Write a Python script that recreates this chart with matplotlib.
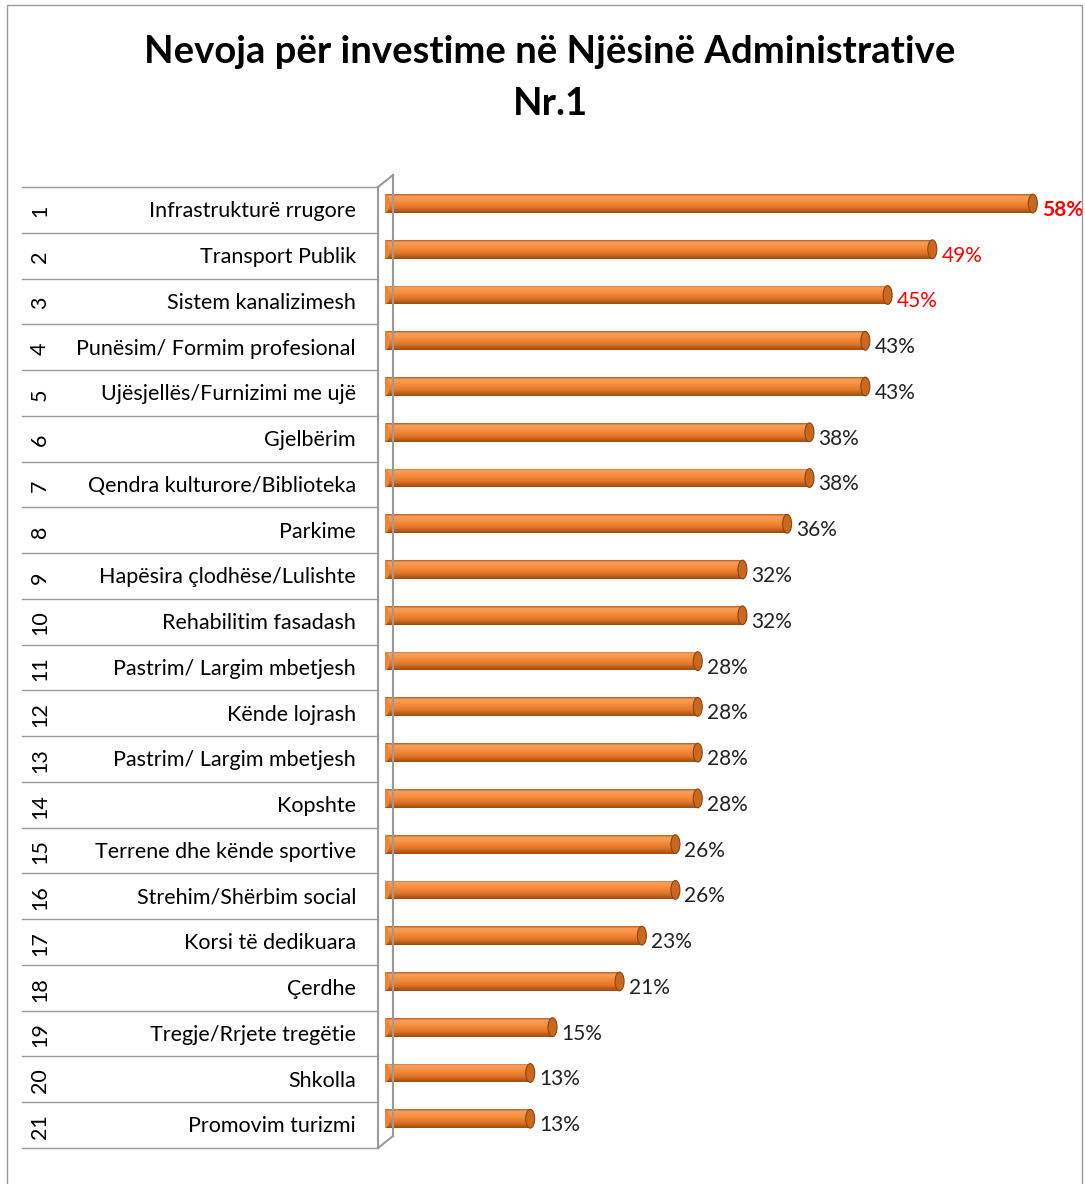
import numpy as np
import matplotlib.pyplot as plt
from matplotlib.colors import LinearSegmentedColormap
from matplotlib.patches import Ellipse, Rectangle
import matplotlib.transforms as mtrans

plt.rcParams['font.family'] = ['Lato', 'DejaVu Sans']

# data
ranks = [str(i) for i in range(1, 22)]
categories = [
    "Infrastrukturë rrugore", "Transport Publik", "Sistem kanalizimesh",
    "Punësim/ Formim profesional", "Ujësjellës/Furnizimi me ujë", "Gjelbërim",
    "Qendra kulturore/Biblioteka", "Parkime", "Hapësira çlodhëse/Lulishte",
    "Rehabilitim fasadash", "Pastrim/ Largim mbetjesh", "Kënde lojrash",
    "Pastrim/ Largim mbetjesh", "Kopshte", "Terrene dhe kënde sportive",
    "Strehim/Shërbim social", "Korsi të dedikuara", "Çerdhe",
    "Tregje/Rrjete tregëtie", "Shkolla", "Promovim turizmi",
]
values = [58, 49, 45, 43, 43, 38, 38, 36, 32, 32, 28, 28, 28, 28, 26, 26, 23, 21, 15, 13, 13]

W, H = 1085, 1184
fig = plt.figure(figsize=(W / 100, H / 100), dpi=100)

def fx(px):
    return px / W

def fy(py):
    return 1 - py / H

# outer chart border
fig.add_artist(Rectangle((fx(7), fy(1200)), fx(1082) - fx(7), fy(5) - fy(1200),
                         transform=fig.transFigure, fill=False, ec='#9a9a9a', lw=1))

fig.text(fx(550), fy(52), "Nevoja për investime në Njësinë Administrative",
         ha='center', va='center', fontsize=27.5, fontweight='bold')
fig.text(fx(550), fy(104), "Nr.1", ha='center', va='center', fontsize=27.5, fontweight='bold')

# plot axes: x=0 at px 385, 11.17 px per percent
x0, ppu = 385, 11.17
top, bot = 187, 1148
ax = fig.add_axes([fx(x0), fy(bot), fx(W) - fx(x0), fy(top) - fy(bot)])
ax.set_xlim(0, (W - x0) / ppu)
n = len(values)
ax.set_ylim(n - 0.5, -0.5)
ax.axis('off')

y = np.arange(n)
shift = 0.14
bh = 0.41
bars = ax.barh(y - shift, values, height=bh, color='#F58B3C', lw=0, zorder=2)

cmap = LinearSegmentedColormap.from_list('cyl', [
    (0.0, '#B8601F'), (0.12, '#F7A060'), (0.35, '#F8913F'),
    (0.7, '#E27528'), (1.0, '#9E4C10')])
grad = np.linspace(0, 1, 64).reshape(-1, 1)
cap_w = 9 / ppu
for b, v in zip(bars, values):
    bx, by, bw, bhh = b.get_x(), b.get_y(), b.get_width(), b.get_height()
    im = ax.imshow(grad, cmap=cmap, aspect='auto', zorder=3,
                   extent=(bx, bx + bw, by + bhh, by), interpolation='bilinear')
    im.set_clip_path(b)
    yc = by + bhh / 2
    ax.add_patch(Ellipse((bx + bw, yc), cap_w, bhh, fc='#C9691F', ec='#8E4510', lw=0.8, zorder=4))
    ax.add_patch(Ellipse((bx, yc), cap_w, bhh, fc='#EE8436', ec='none', lw=0, zorder=3))

for i, v in enumerate(values):
    col = 'red' if i < 3 else '#222222'
    wt = 'bold' if i == 0 else 'normal'
    ax.text(v + 9 / ppu, i, f"{v}%", ha='left', va='center', fontsize=15,
            color=col, fontweight=wt)

# table on the left, blended transform (figure x, data y)
tr = mtrans.blended_transform_factory(fig.transFigure, ax.transData)
for i in range(n + 1):
    fig.add_artist(plt.Line2D([fx(22), fx(378)], [i - 0.5, i - 0.5], transform=tr,
                              color='#9a9a9a', lw=1))
for i, (r, c) in enumerate(zip(ranks, categories)):
    fig.text(fx(356), i + 0.03, c, transform=tr, ha='right', va='center', fontsize=15.5)
    fig.text(fx(40), i + 0.03, r, transform=tr, ha='center', va='center', fontsize=15.5,
             rotation=90)

# 3D wall lines
dy = 12 / 45.76
wall = dict(color='#9a9a9a', lw=1.5)
fig.add_artist(plt.Line2D([fx(378), fx(378)], [-0.5, n - 0.5], transform=tr, **wall))
fig.add_artist(plt.Line2D([fx(393), fx(393)], [-0.5 - dy, n - 0.5 - dy], transform=tr, **wall))
fig.add_artist(plt.Line2D([fx(378), fx(393)], [-0.5, -0.5 - dy], transform=tr, **wall))
fig.add_artist(plt.Line2D([fx(378), fx(393)], [n - 0.5, n - 0.5 - dy], transform=tr, **wall))

fig.savefig("out.png", dpi=100)
